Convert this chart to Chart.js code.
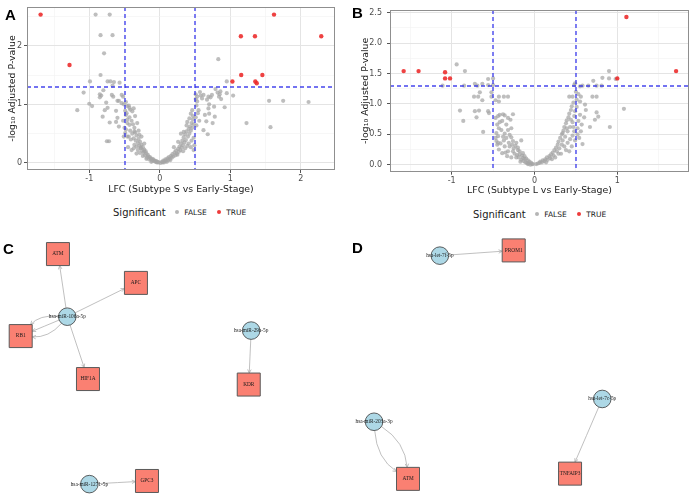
<!DOCTYPE html>
<html><head><meta charset="utf-8">
<script src="https://cdn.jsdelivr.net/npm/chart.js@4.4.0/dist/chart.umd.min.js"></script>
<style>
html,body{margin:0;padding:0;background:#fff}
body{width:695px;height:498px;position:relative;overflow:hidden;font-family:"DejaVu Sans",sans-serif}
.box{position:absolute}
.tag{position:absolute;font:bold 15px "Liberation Sans",Arial,sans-serif;color:#000;line-height:1}
.leg{position:absolute;display:flex;align-items:center;white-space:nowrap;height:14px}
.lt{font-size:10px;color:#1a1a1a}
.li{font-size:7.5px;color:#1a1a1a;margin-left:5px}
.dot{display:inline-block;width:4.5px;height:4.5px;border-radius:50%}
</style></head>
<body>
<div class="box" style="left:0;top:0"><canvas id="cA" width="340" height="198"></canvas></div>
<div class="box" style="left:345px;top:0"><canvas id="cB" width="350" height="200"></canvas></div>
<div class="box" style="left:0;top:236px"><canvas id="cC" width="345" height="262"></canvas></div>
<div class="box" style="left:345px;top:236px"><canvas id="cD" width="350" height="262"></canvas></div>
<div class="tag" style="left:5px;top:7px">A</div>
<div class="tag" style="left:352px;top:5px">B</div>
<div class="tag" style="left:3px;top:241px">C</div>
<div class="tag" style="left:352px;top:240px">D</div>
<div class="leg" style="left:113px;top:205px"><span class="lt">Significant</span><i class="dot" style="background:#b5b5b5;margin-left:9px"></i><span class="li">FALSE</span><i class="dot" style="background:#ee3b3b;margin-left:10px"></i><span class="li">TRUE</span></div>
<div class="leg" style="left:473px;top:207px"><span class="lt">Significant</span><i class="dot" style="background:#b5b5b5;margin-left:9px"></i><span class="li">FALSE</span><i class="dot" style="background:#ee3b3b;margin-left:10px"></i><span class="li">TRUE</span></div>
<script>
// ---------- Volcano data (A: Subtype S vs Early-Stage) ----------
const A_TRUE = [[-1.69,2.53],[-1.28,1.67],[1.62,2.53],[1.15,2.16],[1.35,2.16],[2.29,2.16],[1.155,1.50],[1.455,1.50],[1.03,1.39],[1.355,1.39],[1.375,1.36]];
const A_FALSE = [
[-0.91,2.53],[-0.71,2.53],[-0.84,2.18],[-0.67,2.18],[-0.79,1.87],[-0.84,1.50],
[-0.99,1.39],[-0.74,1.39],[-0.70,1.39],[-0.65,1.38],[-0.67,1.32],[-0.57,1.37],
[-1.08,1.20],[-0.85,1.17],[-0.83,1.15],[-0.85,1.12],[-0.80,1.24],[-0.68,1.16],[-0.66,1.13],[-0.60,1.06],[-0.58,1.06],[-0.54,1.16],[-0.52,1.13],[-0.76,1.03],[-1.00,1.01],[-0.96,0.97],[-1.17,0.90],[-0.78,0.90],[-0.74,0.94],[-0.81,0.79],[-0.71,0.69],[-0.62,0.89],[-0.60,0.77],[-0.62,0.70],[-0.58,0.62],[-0.75,0.37],[-0.72,0.37],
[-0.54,1.02],[-0.51,1.00],[-0.48,1.04],[-0.46,0.97],[-0.43,0.94],[-0.44,0.98],[-0.42,0.91],[-0.47,0.85],[-0.48,0.82],[-0.46,0.74],[-0.43,0.65],[-0.48,0.57],[-0.49,0.51],[-0.50,0.60],[-0.49,0.89],[-0.52,0.72],[-0.51,0.45],
[-0.40,0.72],[-0.38,0.66],[-0.36,0.60],[-0.42,0.55],[-0.39,0.50],[-0.35,0.52],[-0.33,0.47],[-0.44,0.45],[-0.41,0.40],[-0.37,0.42],[-0.34,0.38],[-0.30,0.41],[-0.31,0.34],[-0.28,0.36],[-0.36,0.31],[-0.33,0.28],[-0.29,0.29],[-0.26,0.31],[-0.27,0.25],[-0.24,0.27],[-0.31,0.22],[-0.25,0.21],[-0.22,0.23],[-0.23,0.18],[-0.20,0.20],[-0.28,0.17],[-0.19,0.16],[-0.21,0.13],[-0.17,0.14],[-0.16,0.11],[-0.18,0.09],[-0.14,0.10],[-0.13,0.08],[-0.15,0.06],[-0.12,0.06],[-0.10,0.07],[-0.11,0.04],[-0.09,0.05],[-0.08,0.03],[-0.07,0.04],[-0.06,0.02],[-0.05,0.03],[-0.04,0.01],[-0.03,0.02],[-0.02,0.01],[-0.35,0.80],[-0.39,0.88],[-0.43,0.78],[-0.37,0.93],[-0.32,0.68],[-0.46,0.68],[-0.30,0.55],[-0.26,0.45],[-0.22,0.33],[-0.40,0.22],[-0.45,0.27],[-0.37,0.25],[-0.36,0.54],[-0.27,0.26],[-0.22,0.20],[-0.46,0.45],[-0.33,0.16],[-0.24,0.12],[-0.19,0.07],[-0.12,0.02],[-0.29,0.48],
[0.01,0.00],[0.03,0.02],[0.04,0.01],[0.05,0.04],[0.07,0.03],[0.08,0.06],[0.09,0.04],[0.11,0.08],[0.12,0.05],[0.13,0.10],[0.14,0.07],[0.16,0.12],[0.17,0.09],[0.18,0.15],[0.19,0.11],[0.21,0.18],[0.22,0.13],[0.23,0.21],[0.24,0.16],[0.26,0.24],[0.27,0.19],[0.28,0.28],[0.29,0.22],[0.30,0.33],[0.31,0.26],[0.32,0.38],[0.33,0.30],[0.34,0.44],[0.35,0.35],[0.36,0.49],[0.37,0.39],[0.38,0.54],[0.40,0.45],[0.41,0.58],[0.42,0.50],[0.43,0.62],[0.44,0.55],[0.45,0.68],[0.46,0.60],[0.47,0.74],[0.48,0.66],[0.30,0.50],[0.34,0.53],[0.38,0.64],[0.42,0.76],[0.44,0.84],[0.46,0.90],[0.47,0.80],[0.39,0.70],[0.26,0.36],[0.20,0.27],[0.36,0.25],[0.41,0.33],[0.45,0.38],[0.48,0.43],[0.44,0.27],[0.39,0.29],[0.33,0.20],[0.25,0.14],[0.15,0.05],[0.10,0.02],[0.06,0.01],[0.49,0.30],[0.48,0.22],
[0.51,1.17],[0.53,1.13],[0.58,1.15],[0.62,1.16],[0.67,1.08],[0.69,1.13],[0.72,1.12],[0.74,1.16],[0.82,1.20],[0.85,1.17],[0.84,1.13],[0.87,1.09],[0.95,1.19],[1.04,1.15],[0.95,1.39],[0.83,1.77],[0.70,1.00],[0.77,0.96],[0.69,0.93],[0.64,0.82],[0.70,0.84],[0.78,0.79],[0.66,0.71],[0.75,0.68],[0.62,0.56],[0.68,0.49],[0.92,0.95],[1.23,0.68],[1.57,0.61],[1.55,1.06],[1.75,1.06],[2.11,1.04],[0.53,1.05],[0.52,0.98],[0.55,0.90],[0.51,0.78],[0.56,0.72],[0.52,0.64],[0.57,1.21],[0.60,1.10],[0.86,1.22],[0.79,1.26],[0.54,0.85],[0.51,1.09]
];
// ---------- Volcano data (B: Subtype L vs Early-Stage) ----------
const B_TRUE = [[-1.58,1.54],[-1.40,1.54],[-1.08,1.52],[-1.08,1.42],[-1.02,1.42],[1.11,2.43],[1.00,1.42],[1.71,1.54]];
const B_FALSE = [
[-0.94,1.65],[-0.84,1.54],[-1.11,1.30],[-0.85,1.30],[-0.72,1.33],[-0.69,1.30],[-0.63,1.33],[-0.56,1.41],[-0.56,1.31],[-0.50,1.42],[-0.90,0.89],[-0.86,0.72],[-0.73,1.12],[-0.68,1.12],[-0.66,1.19],[-0.63,1.06],[-0.72,0.88],[-0.67,0.89],[-0.70,0.78],[-0.56,0.88],[-0.55,0.85],[-0.62,0.54],[-0.52,1.19],[-0.52,1.12],[-0.43,1.12],[-0.37,1.12],[-0.32,1.12],[-0.47,1.06],[-0.43,1.04],[-0.50,1.31],
[-0.47,0.77],[-0.44,0.80],[-0.42,0.82],[-0.38,0.83],[-0.36,0.81],[-0.32,0.77],[-0.29,0.74],[-0.26,0.83],[-0.45,0.66],[-0.43,0.60],[-0.46,0.52],[-0.44,0.47],[-0.46,0.39],[-0.45,0.33],[-0.40,0.57],[-0.36,0.51],[-0.38,0.46],[-0.34,0.44],[-0.32,0.57],[-0.28,0.60],[-0.30,0.49],[-0.26,0.39],[-0.22,0.36],[-0.20,0.28],[-0.16,0.40],[-0.18,0.22],[-0.14,0.19],[-0.12,0.14],[-0.10,0.10],[-0.08,0.07],[-0.06,0.05],[-0.04,0.03],[-0.02,0.01],[-0.32,0.22],[-0.33,0.14],[-0.36,0.30],[-0.24,0.18],[-0.28,0.12],[-0.25,0.27],[-0.21,0.16],[-0.19,0.12],[-0.16,0.08],[-0.13,0.06],[-0.11,0.04],[-0.09,0.03],[-0.07,0.02],[-0.42,0.70],[-0.39,0.72],[-0.34,0.66],[-0.37,0.40],[-0.41,0.35],[-0.28,0.45],[-0.23,0.31],[-0.15,0.15],[-0.12,0.10],[-0.43,0.25],[-0.39,0.19],[-0.35,0.20],[-0.30,0.30],[-0.26,0.22],[-0.22,0.12],[-0.17,0.05],[-0.08,0.01],[-0.05,0.00],[-0.47,0.44],[-0.44,0.36],[-0.31,0.36],[-0.27,0.33],[-0.20,0.24],[-0.18,0.17],[-0.14,0.11],[-0.03,0.01],
[0.02,0.01],[0.04,0.02],[0.06,0.03],[0.07,0.05],[0.09,0.04],[0.10,0.07],[0.12,0.06],[0.13,0.09],[0.15,0.12],[0.16,0.08],[0.18,0.14],[0.19,0.11],[0.20,0.17],[0.22,0.20],[0.23,0.15],[0.24,0.24],[0.26,0.28],[0.27,0.22],[0.28,0.33],[0.29,0.38],[0.30,0.27],[0.31,0.44],[0.33,0.50],[0.34,0.40],[0.35,0.56],[0.36,0.62],[0.37,0.46],[0.38,0.68],[0.39,0.73],[0.40,0.55],[0.41,0.78],[0.42,0.84],[0.43,0.62],[0.44,0.90],[0.45,0.96],[0.46,0.70],[0.47,1.02],[0.48,0.80],[0.49,0.88],[0.25,0.12],[0.32,0.18],[0.36,0.30],[0.40,0.36],[0.43,0.42],[0.46,0.48],[0.48,0.55],[0.42,0.22],[0.38,0.24],[0.33,0.33],[0.29,0.18],[0.21,0.09],[0.14,0.04],[0.45,0.30],[0.49,0.40],[0.47,0.62],[0.44,0.74],[0.39,0.60],[0.34,0.52],
[0.90,1.54],[0.82,1.43],[0.90,1.42],[0.98,1.41],[0.71,1.38],[0.48,1.31],[0.58,1.30],[0.65,1.30],[0.75,1.30],[0.81,1.30],[0.42,1.12],[0.46,1.12],[0.56,1.12],[0.70,1.12],[0.75,1.12],[0.51,1.07],[0.55,1.04],[0.61,0.99],[1.08,0.92],[0.91,0.62],[0.58,0.34],[0.75,0.86],[0.77,0.79],[0.73,0.74],[0.67,0.62],[0.62,0.90],[0.55,0.82],[0.51,0.95],[0.53,0.72],[0.60,0.78],[0.52,0.60],[0.57,0.66],[0.52,0.50],[0.54,0.44],[0.56,0.55],[0.50,1.20],[0.53,1.16],[0.49,1.34],[0.55,1.29]
];
// ---------- Axis ticks & thresholds ----------
const A_X_MAJOR = [-1,0,1,2],  A_X_MINOR = [-1.5,-0.5,0.5,1.5];
const A_Y_MAJOR = [0,1,2],     A_Y_MINOR = [0.5,1.5,2.5];
const B_X_MAJOR = [-1,0,1],    B_X_MINOR = [-1.5,-0.5,0.5,1.5];
const B_Y_MAJOR = [0,0.5,1,1.5,2,2.5], B_Y_MINOR = [0.25,0.75,1.25,1.75,2.25];
const LFC_CUT = 0.5;
const P_CUT = -Math.log10(0.05);
const Y_TITLE = '-log\u2081\u2080 Adjusted P-value';

// ---------- Network data ----------
const C_GENES = ['ATM','APC','RB1','HIF1A','KDR','GPC3'];
const C_GENE_X = [0.168,0.394,0.060,0.255,0.721,0.426];
const C_GENE_Y = [0.931,0.821,0.618,0.454,0.433,0.065];
const C_MIRS = ['hsa-miR-106a-5p','hsa-miR-29a-5p','hsa-miR-1271-5p'];
const C_MIR_X = [0.195,0.728,0.259];
const C_MIR_Y = [0.692,0.639,0.053];
const C_EDGES = [['hsa-miR-106a-5p','ATM'],['hsa-miR-106a-5p','APC'],['hsa-miR-106a-5p','RB1'],['hsa-miR-106a-5p','RB1'],['hsa-miR-106a-5p','RB1'],['hsa-miR-106a-5p','HIF1A'],['hsa-miR-29a-5p','KDR'],['hsa-miR-1271-5p','GPC3']];

const D_GENES = ['PROM1','TNFAIP3','ATM'];
const D_GENE_X = [0.482,0.643,0.180];
const D_GENE_Y = [0.945,0.093,0.073];
const D_MIRS = ['hsa-let-7f-5p','hsa-let-7c-5p','hsa-miR-203a-3p'];
const D_MIR_X = [0.271,0.735,0.083];
const D_MIR_Y = [0.925,0.378,0.291];
const D_EDGES = [['hsa-let-7f-5p','PROM1'],['hsa-let-7c-5p','TNFAIP3'],['hsa-miR-203a-3p','ATM'],['hsa-miR-203a-3p','ATM']];

Chart.defaults.font.family = '"DejaVu Sans", sans-serif';
Chart.defaults.animation = false;
Chart.defaults.devicePixelRatio = 1;

const volcanoDeco = {
  id:'volcanoDeco',
  afterDatasetsDraw(ch){
    const {ctx, chartArea:a, scales:{x,y}} = ch;
    ctx.save();
    ctx.beginPath(); ctx.rect(a.left,a.top,a.width,a.height); ctx.clip();
    ctx.strokeStyle='rgba(50,50,235,0.9)'; ctx.lineWidth=1.4; ctx.setLineDash([4,3]);
    [-LFC_CUT, LFC_CUT].forEach(v=>{const px=Math.round(x.getPixelForValue(v)); ctx.beginPath(); ctx.moveTo(px,a.top); ctx.lineTo(px,a.bottom); ctx.stroke();});
    const py=Math.round(y.getPixelForValue(P_CUT));
    ctx.beginPath(); ctx.moveTo(a.left,py); ctx.lineTo(a.right,py); ctx.stroke();
    ctx.restore();
  },
  afterDraw(ch){
    const {ctx, chartArea:a} = ch;
    ctx.save(); ctx.setLineDash([]); ctx.strokeStyle='#8f8f8f'; ctx.lineWidth=1;
    ctx.strokeRect(Math.round(a.left)+0.5, Math.round(a.top)+0.5, Math.round(a.width)-1, Math.round(a.height)-1);
    ctx.restore();
  }
};

function axisCfg(major, minor, fmt, extra){
  const isMaj = v => major.some(m=>Math.abs(m-v)<1e-9);
  return Object.assign({
    type:'linear',
    afterBuildTicks: s => { s.ticks = major.concat(minor).filter(v=>v>=s.min && v<=s.max).sort((p,q)=>p-q).map(v=>({value:v})); },
    grid:{ color: c => (c.tick && isMaj(c.tick.value)) ? '#e4e4e4' : '#f2f2f2',
           lineWidth: c => (c.tick && isMaj(c.tick.value)) ? 1 : 0.6,
           tickColor: c => (c.tick && isMaj(c.tick.value)) ? '#555' : 'rgba(0,0,0,0)',
           tickLength:3 },
    border:{ display:false }
  }, extra);
}

function volcano(id, falseP, trueP, xr, yr, xMaj, xMin, yMaj, yMin, yFmt, xTitle, geo){
  const toPts = arr => arr.map(p=>({x:p[0], y:p[1]}));
  new Chart(document.getElementById(id), {
    type:'scatter',
    data:{ datasets:[
      { label:'TRUE', data:toPts(trueP), backgroundColor:'rgba(236,40,40,0.88)', pointRadius:2.2, borderWidth:0 },
      { label:'FALSE', data:toPts(falseP), backgroundColor:'rgba(165,165,165,0.72)', pointRadius:2.1, borderWidth:0 }
    ]},
    options:{
      responsive:false, maintainAspectRatio:false,
      layout:{ autoPadding:false, padding:{ left:0, right:geo.padR, top:geo.padT, bottom:0 } },
      plugins:{ legend:{display:false}, tooltip:{enabled:false} },
      scales:{
        x: axisCfg(xMaj, xMin, v=>String(v), { min:xr[0], max:xr[1],
             ticks:{ autoSkip:false, maxRotation:0, color:'#4d4d4d', font:{size:8}, padding:1, callback: v => xMaj.includes(v) ? String(v) : '' },
             title:{ display:true, text:xTitle, color:'#1a1a1a', font:{size:9.4}, padding:{top:0,bottom:geo.xtPad} },
             afterFit: s => { s.height = geo.xH; } }),
        y: axisCfg(yMaj, yMin, yFmt, { min:yr[0], max:yr[1],
             ticks:{ autoSkip:false, color:'#4d4d4d', font:{size:8}, padding:geo.ytkPad, callback: v => yMaj.some(m=>Math.abs(m-v)<1e-9) ? yFmt(v) : '' },
             title:{ display:true, text:Y_TITLE, color:'#1a1a1a', font:{size:9.4}, padding:{top:geo.ytPad,bottom:0} },
             afterFit: s => { s.width = geo.yW; } })
      }
    },
    plugins:[volcanoDeco]
  });
}

volcano('cA', A_FALSE, A_TRUE, [-1.883,2.485], [-0.12,2.66], A_X_MAJOR, A_X_MINOR, A_Y_MAJOR, A_Y_MINOR, v=>String(v),
  'LFC (Subtype S vs Early-Stage)', {padR:5, padT:7, xH:28, yW:27, xtPad:2.5, ytPad:6.5, ytkPad:2});
volcano('cB', B_FALSE, B_TRUE, [-1.745,1.866], [-0.115,2.545], B_X_MAJOR, B_X_MINOR, B_Y_MAJOR, B_Y_MINOR, v=>v.toFixed(1),
  'LFC (Subtype L vs Early-Stage)', {padR:6, padT:10, xH:28.3, yW:45, xtPad:3.4, ytPad:15.4, ytkPad:5});

// ---------- Networks ----------
function network(id, genes, gx, gy, mirs, mx, my, edges){
  const SQ_HALF = 11.5, CIRC_R = 8.8;
  const pos = {};
  genes.forEach((g,i)=>pos[g]={x:gx[i], y:gy[i], sq:true});
  mirs.forEach((m,i)=>pos[m]={x:mx[i], y:my[i], sq:false});
  const edgePlugin = {
    id:'edges',
    beforeDatasetsDraw(ch){
      const {ctx, scales:{x,y}} = ch;
      const P = n => ({x:x.getPixelForValue(pos[n].x), y:y.getPixelForValue(pos[n].y), sq:pos[n].sq});
      const groups = {};
      edges.forEach(e=>{ const k=e[0]+'|'+e[1]; (groups[k]=groups[k]||[]).push(e); });
      ctx.save(); ctx.strokeStyle='#b0b0b0'; ctx.lineWidth=0.8;
      Object.values(groups).forEach(g=>{
        const n=g.length;
        g.forEach((e,i)=>{
          const s=P(e[0]), t=P(e[1]);
          const dx=t.x-s.x, dy=t.y-s.y, L=Math.hypot(dx,dy);
          const off = n>1 ? (i-(n-1)/2)/(n-1)*0.5*L : 0;
          const cx=(s.x+t.x)/2 - dy/L*off, cy=(s.y+t.y)/2 + dx/L*off;
          const edgePt = (c, tx, ty) => {
            let vx=tx-c.x, vy=ty-c.y;
            if (c.sq){ const m=Math.max(Math.abs(vx),Math.abs(vy)); return {x:c.x+vx/m*SQ_HALF, y:c.y+vy/m*SQ_HALF}; }
            const l=Math.hypot(vx,vy); return {x:c.x+vx/l*CIRC_R, y:c.y+vy/l*CIRC_R};
          };
          const st=edgePt(s,cx,cy), en=edgePt(t,cx,cy);
          ctx.beginPath(); ctx.moveTo(st.x,st.y); ctx.quadraticCurveTo(cx,cy,en.x,en.y); ctx.stroke();
          const ang=Math.atan2(en.y-cy, en.x-cx), al=4, aw=0.45;
          ctx.beginPath();
          ctx.moveTo(en.x-al*Math.cos(ang-aw), en.y-al*Math.sin(ang-aw));
          ctx.lineTo(en.x,en.y);
          ctx.lineTo(en.x-al*Math.cos(ang+aw), en.y-al*Math.sin(ang+aw));
          ctx.stroke();
        });
      });
      ctx.restore();
    },
    afterDatasetsDraw(ch){
      const {ctx, scales:{x,y}} = ch;
      ctx.save(); ctx.fillStyle='#1a1a1a'; ctx.textAlign='center'; ctx.textBaseline='middle';
      ctx.font='5.3px "Liberation Serif", "DejaVu Serif", serif';
      Object.keys(pos).forEach(k=>{ ctx.fillText(k, x.getPixelForValue(pos[k].x), y.getPixelForValue(pos[k].y)); });
      ctx.restore();
    }
  };
  new Chart(document.getElementById(id), {
    type:'scatter',
    data:{ datasets:[
      { label:'miRNA', data:mirs.map((m,i)=>({x:mx[i], y:my[i]})), pointStyle:'circle', pointRadius:CIRC_R, backgroundColor:'#add8e6', borderColor:'#3a3a3a', borderWidth:0.8, clip:false },
      { label:'gene', data:genes.map((g,i)=>({x:gx[i], y:gy[i]})), pointStyle:'rect', pointRadius:SQ_HALF/Math.SQRT1_2, backgroundColor:'#fa8072', borderColor:'#5a5a5a', borderWidth:1, clip:false }
    ]},
    options:{
      responsive:false, maintainAspectRatio:false,
      layout:{ autoPadding:false, padding:0 },
      plugins:{ legend:{display:false}, tooltip:{enabled:false} },
      scales:{ x:{type:'linear', min:0, max:1, display:false}, y:{type:'linear', min:0, max:1, display:false} }
    },
    plugins:[edgePlugin]
  });
}

network('cC', C_GENES, C_GENE_X, C_GENE_Y, C_MIRS, C_MIR_X, C_MIR_Y, C_EDGES);
network('cD', D_GENES, D_GENE_X, D_GENE_Y, D_MIRS, D_MIR_X, D_MIR_Y, D_EDGES);
</script>
</body></html>
